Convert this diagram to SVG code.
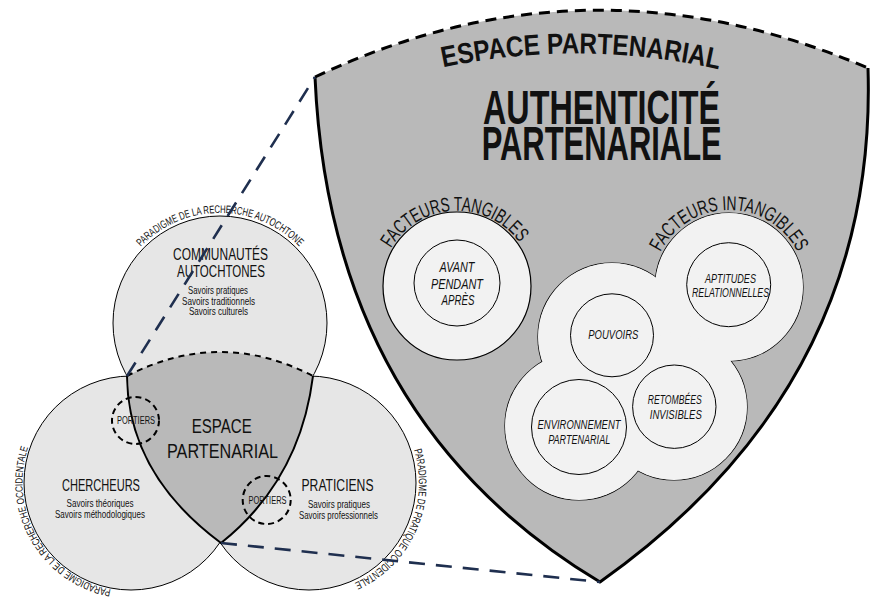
<svg xmlns="http://www.w3.org/2000/svg" xmlns:xlink="http://www.w3.org/1999/xlink" width="871" height="599" viewBox="0 0 871 599">
<defs>
<style>
.t{font-family:"Liberation Sans",Arial,sans-serif;fill:#111;text-anchor:middle}
.b{font-weight:bold}
.i{font-style:italic}
.vc{fill:#e6e6e6;stroke:#000;stroke-width:1}
.sh{fill:#b9b9b9;stroke:none}
.side{fill:none;stroke:#000;stroke-width:3;stroke-linejoin:round}
.dtop{fill:none;stroke:#000;stroke-width:3;stroke-dasharray:11 7}
.mside{fill:none;stroke:#000;stroke-width:2}
.mtop{fill:none;stroke:#000;stroke-width:2;stroke-dasharray:6 5}
.port{fill:none;stroke:#000;stroke-width:2;stroke-dasharray:6 4}
.oc{fill:#f2f2f2;stroke:#000;stroke-width:1.2}
.ocf{fill:#f2f2f2;stroke:none}
.ic{fill:#f2f2f2;stroke:#000;stroke-width:1}
.conn{fill:none;stroke:#1f2f4f;stroke-width:2.6;stroke-dasharray:16 11}
</style>
<path id="pTop" d="M116.6,285.4 A110,110 0 0 1 323.4,285.4"/>
<path id="pLeft" d="M150.5,589.8 A109,109 0 0 1 47.5,413.0"/>
<path id="pRight" d="M385.4,403.9 A110,110 0 0 1 301.3,592.7"/>
<path id="pTitle" d="M440,68 Q580,38 722,70"/>
<path id="pTang" d="M380.1,289.5 A77,77 0 0 1 533.9,282.5"/>
<path id="pIntang" d="M652,287 A77,77 0 0 1 806,287"/>
</defs>
<rect width="871" height="599" fill="#fff"/>

<g id="shield">
<path class="sh" d="M315,77 Q587,-52 868,68 Q878,385 600,582 Q330,420 315,77 Z"/>
<path class="side" d="M868,68 Q878,385 600,582 Q330,420 315,77"/>
<path class="dtop" d="M315,77 Q587,-52 868,68"/>
<text class="t b" font-size="29"><textPath xlink:href="#pTitle" href="#pTitle" startOffset="50%" textLength="278" lengthAdjust="spacingAndGlyphs">ESPACE PARTENARIAL</textPath></text>
<text class="t b" x="601.5" y="123.5" font-size="48" textLength="237" lengthAdjust="spacingAndGlyphs">AUTHENTICITÉ</text>
<text class="t b" x="601.7" y="160" font-size="48" textLength="240" lengthAdjust="spacingAndGlyphs">PARTENARIALE</text>
</g>

<g id="facteurs-tangibles">
<circle class="oc" cx="457" cy="286" r="74"/>
<circle class="ic" cx="457" cy="283" r="43"/>
<text class="t" font-size="20"><textPath xlink:href="#pTang" href="#pTang" startOffset="50%" textLength="152" lengthAdjust="spacingAndGlyphs">FACTEURS TANGIBLES</textPath></text>
<text class="t i" x="457" y="271.7" font-size="14" textLength="35" lengthAdjust="spacingAndGlyphs">AVANT</text>
<text class="t i" x="457" y="289" font-size="14" textLength="52" lengthAdjust="spacingAndGlyphs">PENDANT</text>
<text class="t i" x="458" y="305" font-size="14" textLength="33" lengthAdjust="spacingAndGlyphs">APRÈS</text>
</g>

<g id="facteurs-intangibles">
<circle class="oc" cx="612" cy="337" r="74"/>
<circle class="oc" cx="729" cy="287" r="74"/>
<circle class="oc" cx="579" cy="426" r="74"/>
<circle class="oc" cx="674" cy="407" r="73"/>
<circle class="ocf" cx="612" cy="337" r="74"/>
<circle class="ocf" cx="729" cy="287" r="74"/>
<circle class="ocf" cx="579" cy="426" r="74"/>
<circle class="ocf" cx="674" cy="407" r="73"/>
<text class="t" font-size="20"><textPath xlink:href="#pIntang" href="#pIntang" startOffset="50%" textLength="169" lengthAdjust="spacingAndGlyphs">FACTEURS INTANGIBLES</textPath></text>
</g>

<g id="aptitudes">
<circle class="ic" cx="728.7" cy="284.7" r="42"/>
<text class="t i" x="730.5" y="282.7" font-size="13.5" textLength="51" lengthAdjust="spacingAndGlyphs">APTITUDES</text>
<text class="t i" x="730.5" y="297.3" font-size="13.5" textLength="77" lengthAdjust="spacingAndGlyphs">RELATIONNELLES</text>
</g>
<g id="pouvoirs">
<circle class="ic" cx="612" cy="335.3" r="41.5"/>
<text class="t i" x="613.3" y="339" font-size="13.5" textLength="50" lengthAdjust="spacingAndGlyphs">POUVOIRS</text>
</g>
<g id="environnement">
<circle class="ic" cx="579" cy="427" r="47.5"/>
<text class="t i" x="579" y="429" font-size="13.5" textLength="83" lengthAdjust="spacingAndGlyphs">ENVIRONNEMENT</text>
<text class="t i" x="579.2" y="444" font-size="13.5" textLength="62" lengthAdjust="spacingAndGlyphs">PARTENARIAL</text>
</g>
<g id="retombees">
<circle class="ic" cx="674.3" cy="406.7" r="41.7"/>
<text class="t i" x="674.7" y="404.3" font-size="13.5" textLength="54" lengthAdjust="spacingAndGlyphs">RETOMBÉES</text>
<text class="t i" x="675.8" y="419.3" font-size="13.5" textLength="52" lengthAdjust="spacingAndGlyphs">INVISIBLES</text>
</g>

<g id="venn-circles">
<circle id="c-chercheurs" class="vc" cx="131" cy="483" r="107"/>
<circle id="c-praticiens" class="vc" cx="309" cy="483" r="107"/>
<circle id="c-communautes" class="vc" cx="220" cy="323" r="107"/>
</g>

<g id="espace-partenarial-venn">
<path class="sh" d="M127,376 Q220,328 313,376 Q300,480 221,543 Q128,474 127,376 Z"/>
<path class="mside" d="M313,376 Q300,480 221,543 Q128,474 127,376"/>
<path class="mtop" d="M127,376 Q220,328 313,376"/>
<text class="t" x="221.7" y="433" font-size="19.5" textLength="60" lengthAdjust="spacingAndGlyphs">ESPACE</text>
<text class="t" x="222.5" y="458" font-size="19.5" textLength="111" lengthAdjust="spacingAndGlyphs">PARTENARIAL</text>
</g>

<g id="communautes">
<text class="t" font-size="11"><textPath xlink:href="#pTop" href="#pTop" startOffset="50%" textLength="177" lengthAdjust="spacingAndGlyphs">PARADIGME DE LA RECHERCHE AUTOCHTONE</textPath></text>
<text class="t" x="220.5" y="260" font-size="16" textLength="95" lengthAdjust="spacingAndGlyphs">COMMUNAUTÉS</text>
<text class="t" x="221" y="277" font-size="16" textLength="88" lengthAdjust="spacingAndGlyphs">AUTOCHTONES</text>
<text class="t" x="218" y="294" font-size="10.5" textLength="60" lengthAdjust="spacingAndGlyphs">Savoirs pratiques</text>
<text class="t" x="218.5" y="304.5" font-size="10.5" textLength="73" lengthAdjust="spacingAndGlyphs">Savoirs traditionnels</text>
<text class="t" x="218.5" y="315" font-size="10.5" textLength="59" lengthAdjust="spacingAndGlyphs">Savoirs culturels</text>
</g>

<g id="chercheurs">
<text class="t" font-size="10.5"><textPath xlink:href="#pLeft" href="#pLeft" startOffset="50%" textLength="186" lengthAdjust="spacingAndGlyphs">PARADIGME DE LA RECHERCHE OCCIDENTALE</textPath></text>
<text class="t" x="101" y="491" font-size="16" textLength="78" lengthAdjust="spacingAndGlyphs">CHERCHEURS</text>
<text class="t" x="100" y="506.5" font-size="10.5" textLength="67" lengthAdjust="spacingAndGlyphs">Savoirs théoriques</text>
<text class="t" x="100" y="517.5" font-size="10.5" textLength="90" lengthAdjust="spacingAndGlyphs">Savoirs méthodologiques</text>
</g>

<g id="praticiens">
<text class="t" font-size="11"><textPath xlink:href="#pRight" href="#pRight" startOffset="50%" textLength="159" lengthAdjust="spacingAndGlyphs">PARADIGME DE PRATIQUE OCCIDENTALE</textPath></text>
<text class="t" x="337.5" y="491" font-size="16" textLength="72" lengthAdjust="spacingAndGlyphs">PRATICIENS</text>
<text class="t" x="339" y="508" font-size="10.5" textLength="62" lengthAdjust="spacingAndGlyphs">Savoirs pratiques</text>
<text class="t" x="338.5" y="518.5" font-size="10.5" textLength="79" lengthAdjust="spacingAndGlyphs">Savoirs professionnels</text>
</g>

<g id="portiers-1">
<circle class="port" cx="135.5" cy="420.5" r="23.5"/>
<text class="t" x="136" y="424" font-size="10" textLength="38" lengthAdjust="spacingAndGlyphs">PORTIERS</text>
</g>
<g id="portiers-2">
<circle class="port" cx="266.7" cy="500" r="24"/>
<text class="t" x="267.5" y="504" font-size="10" textLength="38" lengthAdjust="spacingAndGlyphs">PORTIERS</text>
</g>

<g id="connectors">
<line class="conn" x1="127" y1="376" x2="315" y2="77"/>
<line class="conn" x1="221" y1="543" x2="600" y2="582"/>
</g>
</svg>
